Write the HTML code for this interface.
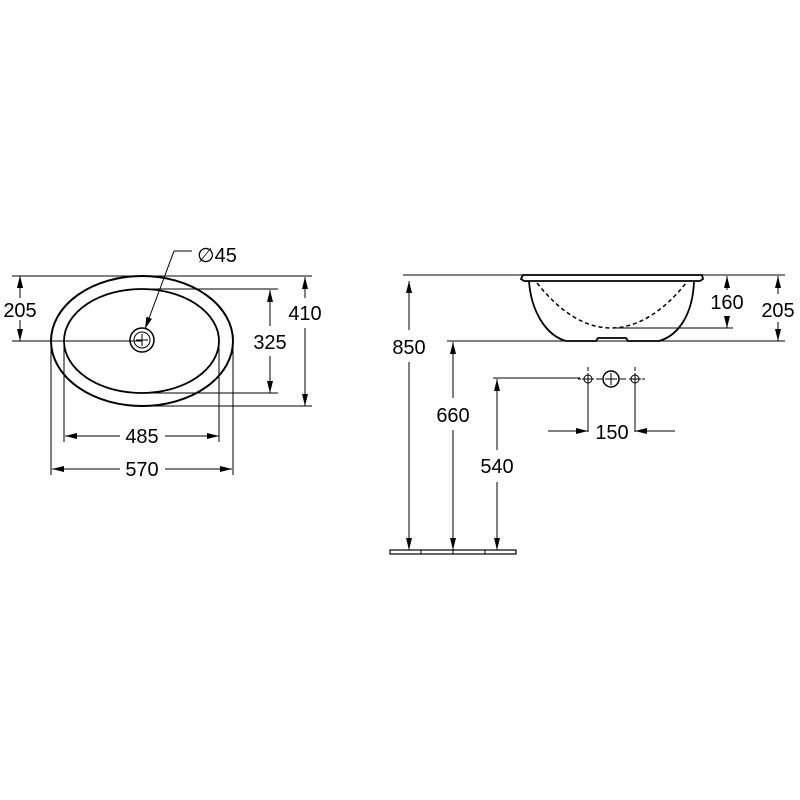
<!DOCTYPE html>
<html><head><meta charset="utf-8"><style>html,body{margin:0;padding:0;background:#fff}svg{display:block}</style></head>
<body>
<svg width="800" height="800" viewBox="0 0 800 800" xmlns="http://www.w3.org/2000/svg" font-family="Liberation Sans, sans-serif" font-size="20" fill="#000">
<defs>
<marker id="a" viewBox="0 0 12 6" refX="12" refY="3" markerWidth="12" markerHeight="6" markerUnits="userSpaceOnUse" orient="auto-start-reverse"><path d="M0,0L12,3L0,6z" fill="#000"/></marker>
</defs>
<g stroke="#000" fill="none" stroke-width="1">
<!-- LEFT VIEW -->
<ellipse cx="142" cy="341" rx="91" ry="65" stroke-width="2"/>
<ellipse cx="141.5" cy="341" rx="77.5" ry="52" stroke-width="1.8"/>
<circle cx="142" cy="340" r="12" stroke-width="1.5"/>
<circle cx="142" cy="340" r="8"/>
<path d="M136,340H148M142,334V346"/>
<!-- extension lines -->
<path d="M12,276H312M12,341H142M142,289H278M142,393H278M142,406H312"/>
<path d="M64,341V442M219,341V442M51,341V475M233,341V475"/>
<!-- dims -->
<path d="M20,276V298M20,320V341" marker-start="url(#a)" />
<line x1="20" y1="298" x2="20" y2="276" marker-end="url(#a)"/>
<line x1="20" y1="320" x2="20" y2="341" marker-end="url(#a)"/>
<line x1="305" y1="298" x2="305" y2="277" marker-end="url(#a)"/>
<line x1="305" y1="328" x2="305" y2="406" marker-end="url(#a)"/>
<line x1="270" y1="326" x2="270" y2="290" marker-end="url(#a)"/>
<line x1="270" y1="356" x2="270" y2="393" marker-end="url(#a)"/>
<line x1="120" y1="436" x2="65" y2="436" marker-end="url(#a)"/>
<line x1="165" y1="436" x2="219" y2="436" marker-end="url(#a)"/>
<line x1="120" y1="469" x2="52" y2="469" marker-end="url(#a)"/>
<line x1="165" y1="469" x2="232" y2="469" marker-end="url(#a)"/>
<path d="M192,251H174"/>
<line x1="174" y1="251" x2="145" y2="329" marker-end="url(#a)"/>
<!-- RIGHT VIEW -->
<path d="M523,275H702L703,279L700,281H524L521,279Z" stroke-width="1.8"/>
<path d="M529,281C531,310 545,335 566,341H596L598,338H626L628,341H659C680,335 693,312 694,281" stroke-width="1.8"/>
<path d="M537,283C560,312 585,328 611,328C637,328 663,312 686,283" stroke-dasharray="4,3" stroke-width="1.5"/>
<path d="M403,275H785M447,341H785M614,328H733"/>
<line x1="727" y1="290" x2="727" y2="276" marker-end="url(#a)"/>
<line x1="727" y1="316" x2="727" y2="328" marker-end="url(#a)"/>
<line x1="778" y1="294" x2="778" y2="276" marker-end="url(#a)"/>
<line x1="778" y1="322" x2="778" y2="341" marker-end="url(#a)"/>
<line x1="409" y1="330" x2="409" y2="281" marker-end="url(#a)"/>
<line x1="409" y1="362" x2="409" y2="550" marker-end="url(#a)"/>
<line x1="453" y1="398" x2="453" y2="342" marker-end="url(#a)"/>
<line x1="453" y1="430" x2="453" y2="550" marker-end="url(#a)"/>
<line x1="497" y1="450" x2="497" y2="379" marker-end="url(#a)"/>
<line x1="497" y1="482" x2="497" y2="550" marker-end="url(#a)"/>
<path d="M493,378H580"/>
<rect x="390" y="550" width="126" height="4" stroke-width="1.2"/>
<path d="M421,550V554M453,550V554M485,550V554"/>
<!-- holes -->
<circle cx="588" cy="379" r="4"/>
<circle cx="635" cy="379" r="4"/>
<circle cx="611" cy="379" r="8" stroke-width="1.5"/>
<path d="M582,379H594M588,373V385M629,379H641M635,373V385M605,379H617M611,373V385M596,379H602M620,379H626"/>
<path d="M588,367V371M635,367V371M578,379H581M642,379H645"/>
<path d="M588,385V432M635,385V432"/>
<line x1="548" y1="431" x2="588" y2="431" marker-end="url(#a)"/>
<line x1="675" y1="431" x2="635" y2="431" marker-end="url(#a)"/>
</g>
<g text-anchor="middle">
<text x="20" y="317">205</text>
<text x="305" y="320">410</text>
<text x="270" y="349">325</text>
<text x="142" y="443">485</text>
<text x="142" y="476">570</text>
<text x="217" y="262">∅45</text>
<text x="727" y="309">160</text>
<text x="778" y="317">205</text>
<text x="409" y="354">850</text>
<text x="453" y="422">660</text>
<text x="497" y="473">540</text>
<text x="612" y="439">150</text>
</g>
</svg>
</body></html>
